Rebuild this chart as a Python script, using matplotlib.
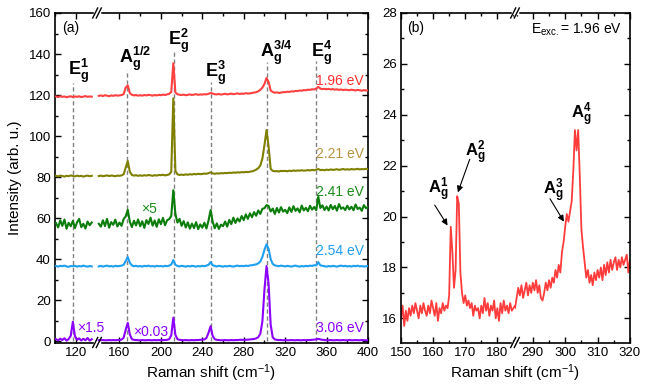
import numpy as np
import matplotlib
matplotlib.use('Agg')
import matplotlib.pyplot as plt
from matplotlib.lines import Line2D
from matplotlib.ticker import MultipleLocator, FixedLocator

plt.rcParams['font.family'] = ['Liberation Sans', 'DejaVu Sans']
plt.rcParams['mathtext.fontset'] = 'custom'
plt.rcParams['mathtext.rm'] = 'Liberation Sans'
plt.rcParams['mathtext.it'] = 'Liberation Sans:italic'
plt.rcParams['mathtext.bf'] = 'Liberation Sans:bold'

# ---- panel (a): spectra at five excitation energies, broken x axis ----
xa_lo = list(range(101, 136, 2))
xa_hi = list(range(140, 401, 2))

red_lo = [119.3, 119.0, 119.4, 119.1, 119.3, 118.9, 119.2, 119.4, 119.0,
          119.3, 119.1, 119.4, 119.0, 119.2, 119.5, 119.1, 119.3, 119.2]
red_hi = [119.6, 119.8, 119.5, 119.9, 119.7, 119.4, 119.8, 119.6, 119.9, 119.7,
          119.8, 120.0, 120.4, 123.6, 124.7, 121.0, 120.1, 119.8, 120.0, 119.7,
          119.9, 119.7, 120.0, 119.8, 120.1, 119.9, 119.7, 120.0, 119.8, 120.1,
          119.9, 120.2, 120.0, 120.3, 120.6, 121.5, 135.5, 121.2, 120.4, 120.1,
          120.0, 120.2, 119.9, 120.1, 120.3, 120.0, 120.2, 120.4, 120.1, 120.3,
          120.2, 120.4, 120.3, 120.6, 121.0, 120.7, 120.4, 120.3, 120.5, 120.2,
          120.4, 120.6, 120.3, 120.5, 120.7, 120.4, 120.6, 120.8, 120.5, 120.7,
          120.6, 120.9, 120.7, 120.8, 121.0, 121.2, 121.4, 121.8, 122.5, 123.6,
          125.4, 128.3, 126.4, 122.2, 121.5, 121.1, 121.3, 121.0, 121.2, 121.4,
          121.4, 121.6, 121.5, 121.8, 121.7, 122.0, 121.9, 122.2, 122.1, 122.4,
          122.3, 122.6, 122.5, 122.8, 122.7, 123.1, 124.0, 123.1, 122.9, 123.0,
          122.8, 123.0, 122.7, 122.9, 122.6, 122.8, 122.5, 122.7, 122.4, 122.6,
          122.5, 122.3, 122.6, 122.4, 122.2, 122.5, 122.3, 122.1, 122.4, 122.2,
          122.3]

olive_lo = [80.6, 80.3, 80.7, 80.5, 80.2, 80.6, 80.4, 80.8, 80.5,
            80.3, 80.7, 80.4, 80.6, 80.2, 80.5, 80.7, 80.4, 80.6]
olive_hi = [80.5, 80.7, 80.4, 80.6, 80.8, 80.5, 80.7, 80.6, 80.4, 80.7,
            80.6, 80.8, 81.3, 84.5, 87.8, 82.6, 81.0, 80.7, 80.9, 80.6,
            80.8, 80.6, 80.9, 80.7, 81.0, 80.8, 80.6, 80.9, 80.7, 81.0,
            80.9, 81.1, 80.8, 81.0, 81.3, 82.5, 118.4, 83.0, 81.3, 81.0,
            81.2, 81.0, 81.3, 81.1, 81.4, 81.2, 81.5, 81.3, 81.6, 81.4,
            81.5, 81.7, 81.6, 81.9, 82.3, 81.8, 81.6, 81.8, 81.7, 81.9,
            81.8, 82.0, 81.9, 82.1, 82.0, 82.2, 82.1, 82.3, 82.2, 82.4,
            82.3, 82.5, 82.4, 82.6, 82.8, 83.1, 83.6, 84.3, 85.6, 89.0,
            95.5, 102.9, 95.0, 84.0, 83.0, 82.8, 82.9, 82.7, 83.0, 82.9,
            83.0, 82.8, 83.1, 82.9, 83.2, 83.0, 83.2, 83.1, 83.3, 83.1,
            83.2, 83.4, 83.2, 83.5, 83.3, 83.6, 83.9, 83.4, 83.5, 83.3,
            83.6, 83.4, 83.7, 83.5, 83.6, 83.8, 83.5, 83.7, 83.9, 83.6,
            83.8, 83.6, 83.9, 83.7, 83.8, 84.0, 83.7, 83.9, 83.8, 84.0,
            83.8]

green_lo = [57.5, 55.4, 58.9, 56.2, 59.3, 54.8, 57.7, 56.0, 58.6,
            55.1, 57.9, 59.6, 55.6, 57.2, 54.9, 58.3, 56.5, 57.8]
green_hi = [57.2, 55.8, 58.9, 56.1, 59.6, 55.3, 58.0, 56.7, 59.2, 55.9,
            57.8, 56.2, 59.5, 60.8, 64.0, 58.2, 55.6, 58.7, 56.4, 59.3,
            56.0, 58.4, 55.2, 59.0, 57.1, 60.2, 56.3, 58.8, 55.7, 59.4,
            57.0, 60.1, 56.5, 58.9, 59.5, 61.0, 73.6, 62.0, 57.8, 59.6,
            56.2, 58.5, 55.4, 57.9, 54.8, 57.3, 55.1, 58.0, 54.6, 56.9,
            55.3, 57.7, 54.9, 58.8, 63.9, 58.2, 55.0, 57.4, 54.7, 56.8,
            56.0, 58.3, 55.8, 59.1, 57.0, 60.2, 57.6, 59.8, 58.3, 61.0,
            59.0, 61.8, 59.6, 62.3, 60.4, 62.9, 61.1, 63.7, 62.0, 64.5,
            64.8, 66.3, 65.9, 63.2, 64.6, 62.0, 64.9, 62.7, 65.3, 63.1,
            64.0, 62.4, 65.2, 63.0, 65.8, 63.5, 64.7, 62.8, 66.1, 63.7,
            65.0, 63.3, 66.0, 64.1, 65.4, 63.8, 70.4, 64.9, 66.2, 63.9,
            65.6, 63.7, 66.4, 64.3, 65.9, 63.6, 66.8, 64.5, 65.2, 63.9,
            66.0, 64.2, 65.5, 63.8, 66.6, 64.4, 65.1, 63.5, 66.3, 64.8,
            65.4]

blue_lo = [36.6, 36.3, 36.7, 36.5, 36.8, 36.4, 36.2, 36.6, 36.5,
           36.7, 36.3, 36.6, 36.4, 36.8, 36.5, 36.3, 36.6, 36.4]
blue_hi = [36.4, 36.7, 36.3, 36.6, 36.8, 36.4, 36.6, 36.3, 36.7, 36.5,
           36.6, 36.8, 37.2, 39.0, 41.0, 38.2, 36.9, 36.5, 36.7, 36.4,
           36.6, 36.3, 36.7, 36.5, 36.8, 36.4, 36.6, 36.3, 36.7, 36.5,
           36.6, 36.4, 36.7, 36.5, 36.8, 37.3, 39.5, 37.2, 36.6, 36.4,
           36.7, 36.5, 36.3, 36.6, 36.4, 36.7, 36.5, 36.3, 36.6, 36.4,
           36.7, 36.5, 36.8, 37.2, 38.5, 37.0, 36.6, 36.4, 36.7, 36.5,
           36.3, 36.6, 36.4, 36.7, 36.5, 36.3, 36.6, 36.8, 36.5, 36.7,
           36.5, 36.8, 36.6, 36.9, 37.0, 37.2, 37.4, 37.9, 38.8, 41.0,
           44.5, 47.2, 45.0, 40.0, 37.6, 36.9, 36.7, 36.5, 36.8, 36.6,
           36.4, 36.7, 36.5, 36.3, 36.6, 36.8, 36.5, 36.3, 36.6, 36.4,
           36.7, 36.5, 36.8, 36.6, 37.0, 36.9, 38.5, 36.9, 36.7, 36.5,
           36.3, 36.6, 36.4, 36.7, 36.5, 36.3, 36.6, 36.8, 36.5, 36.7,
           36.4, 36.6, 36.3, 36.7, 36.5, 36.8, 36.4, 36.6, 36.3, 36.5,
           36.6]

purple_lo = [0.9, 0.3, 1.2, 0.5, 1.4, 0.2, 1.0, 2.6, 9.4,
             2.4, 0.6, 1.3, 0.3, 1.1, 0.4, 1.5, 0.2, 0.9]
purple_hi = [0.4, 0.4, 0.5, 0.4, 0.4, 0.5, 0.4, 0.5, 0.4, 0.5,
             0.5, 0.7, 1.6, 5.5, 8.9, 3.2, 0.9, 0.6, 0.5, 0.4,
             0.4, 0.5, 0.4, 0.4, 0.5, 0.4, 0.4, 0.5, 0.4, 0.5,
             0.4, 0.5, 0.5, 0.6, 0.9, 2.8, 11.4, 3.0, 0.9, 0.6,
             0.5, 0.4, 0.5, 0.4, 0.4, 0.5, 0.4, 0.5, 0.5, 0.6,
             0.7, 0.8, 1.5, 4.0, 7.3, 2.5, 0.9, 0.6, 0.5, 0.4,
             0.4, 0.5, 0.4, 0.4, 0.5, 0.4, 0.5, 0.5, 0.6, 0.6,
             0.6, 0.6, 0.7, 0.8, 0.9, 1.0, 1.3, 1.9, 3.5, 9.5,
             25.0, 36.6, 28.0, 8.0, 1.8, 0.8, 0.6, 0.5, 0.5, 0.4,
             0.5, 0.4, 0.4, 0.5, 0.4, 0.4, 0.5, 0.4, 0.4, 0.5,
             0.4, 0.5, 0.5, 0.6, 0.7, 0.8, 1.1, 0.8, 0.6, 0.5,
             0.4, 0.4, 0.5, 0.4, 0.4, 0.5, 0.4, 0.4, 0.5, 0.4,
             0.4, 0.5, 0.4, 0.4, 0.5, 0.4, 0.4, 0.5, 0.4, 0.4,
             0.4]

energies = ['1.96 eV', '2.21 eV', '2.41 eV', '2.54 eV', '3.06 eV']
energy_label_y = [127, 91.2, 72.7, 43.9, 6.3]

mode_names = [r'$\mathbf{E}_\mathbf{g}^\mathbf{1}$', r'$\mathbf{A}_\mathbf{g}^\mathbf{1/2}$',
              r'$\mathbf{E}_\mathbf{g}^\mathbf{2}$', r'$\mathbf{E}_\mathbf{g}^\mathbf{3}$',
              r'$\mathbf{A}_\mathbf{g}^\mathbf{3/4}$', r'$\mathbf{E}_\mathbf{g}^\mathbf{4}$']
mode_pos = [117, 167.4, 212.4, 248.4, 302.8, 349.9]

# ---- panel (b): 1.96 eV spectrum, broken x axis ----
xb_lo = np.arange(300, 372) / 2
xb_hi = np.arange(569, 641) / 2
b_lo = [16.0, 16.5, 15.7, 16.3, 15.9, 16.4, 16.1, 16.5, 16.2, 16.6,
        16.3, 16.0, 16.5, 16.2, 16.6, 16.3, 16.1, 16.5, 16.2, 16.7,
        16.4, 16.1, 16.6, 15.9, 16.4, 16.2, 16.6, 16.3, 16.5, 16.4,
        16.9, 19.6, 18.6, 17.2, 17.9, 20.8, 20.5, 17.8, 17.0, 16.6,
        16.9, 16.5, 16.7, 16.4, 16.6, 16.1, 16.5, 16.3, 16.4, 16.0,
        16.5, 16.2, 16.8, 16.3, 16.6, 16.1, 16.5, 16.3, 16.7, 16.0,
        16.4, 15.9, 16.6, 16.2, 16.7, 16.3, 16.5, 16.2, 16.6, 16.3,
        16.4, 16.5]
b_hi = [16.4, 16.8, 17.2, 16.9, 17.3, 16.8, 17.1, 17.4, 16.9, 17.3,
        17.0, 17.4, 17.1, 17.5, 17.0, 17.3, 16.8, 16.7, 17.0, 17.4,
        17.1, 17.5, 17.2, 17.6, 17.4, 17.9, 17.6, 18.1, 17.8, 18.6,
        19.0, 19.6, 20.1, 19.8, 20.2, 20.6, 21.8, 23.4, 22.6, 23.4,
        21.6, 19.5, 18.8, 18.2, 17.6, 17.9, 17.4, 17.7, 17.3, 17.8,
        17.5, 17.9, 17.6, 18.0, 17.5, 18.1, 17.7, 18.2, 17.8, 18.3,
        17.9, 18.2, 18.4, 17.9, 18.3, 18.0, 18.4, 18.1, 18.3, 18.5,
        17.8, 18.3]

colors = ['#ff4040', '#808000', '#0a7d0a', '#1e9ff0', '#8b00ff']
label_colors = ['#ff3030', '#b8923f', '#1a8c1a', '#1e9ff0', '#8b00ff']

W, H = 648, 387
fig = plt.figure(figsize=(W / 100, H / 100), dpi=100)


def box(x0, x1, y0, y1):
    return [x0 / W, 1 - y1 / H, (x1 - x0) / W, (y1 - y0) / H]


def style_pair(ax1, ax2, ylim, ymaj, ymin):
    for ax in (ax1, ax2):
        ax.set_ylim(*ylim)
        ax.yaxis.set_major_locator(MultipleLocator(ymaj))
        ax.yaxis.set_minor_locator(MultipleLocator(ymin))
        ax.tick_params(which='both', direction='in', top=True, bottom=True,
                       width=1, labelsize=9.5, pad=3)
        ax.tick_params(which='major', length=4.5)
        ax.tick_params(which='minor', length=2.5)
        for s in ax.spines.values():
            s.set_linewidth(1.2)
    ax1.spines['right'].set_visible(False)
    ax1.tick_params(which='both', right=False)
    ax2.spines['left'].set_visible(False)
    ax2.tick_params(which='both', left=False, labelleft=False, right=True)
    # keep text of the first piece visible across the join
    ax2.patch.set_visible(False)


def break_marks(xpix, y0=13, y1=342.5):
    for ypix in (y0, y1):
        fig.add_artist(Line2D([(xpix - 2) / W, (xpix + 2) / W], [1 - ypix / H] * 2,
                              color='white', lw=2.5))
        for d in (-1.8, 1.8):
            fig.add_artist(Line2D([(xpix + d - 2.5) / W, (xpix + d + 2.5) / W],
                                  [1 - (ypix + 5) / H, 1 - (ypix - 5) / H],
                                  color='k', lw=1))


# panel (a)
axa1 = fig.add_axes(box(55, 97, 13, 342.5))
axa2 = fig.add_axes(box(97, 368, 13, 342.5))
axa1.set_xlim(100, 140)
axa2.set_xlim(138.3, 400)
axa1.xaxis.set_major_locator(FixedLocator([120]))
axa1.xaxis.set_minor_locator(FixedLocator([100]))
axa2.xaxis.set_major_locator(MultipleLocator(40))
axa2.xaxis.set_minor_locator(FixedLocator(list(range(180, 400, 40))))
style_pair(axa1, axa2, (-0.7, 160), 20, 10)

lows = [red_lo, olive_lo, green_lo, blue_lo, purple_lo]
highs = [red_hi, olive_hi, green_hi, blue_hi, purple_hi]
for lo, hi, c in zip(lows, highs, colors):
    axa1.plot(xa_lo, lo, color=c, lw=1.5, zorder=3)
    axa2.plot(xa_hi, hi, color=c, lw=1.5, zorder=3)

for e, y, c in zip(energies, energy_label_y, label_colors):
    axa2.text(396, y, e, color=c, fontsize=10, ha='right', va='center')

line_tops = [125.8, 132, 141, 126.5, 136, 136.5]
text_left = [112.4, 159.5, 206.9, 242.6, 295.7, 345]
text_base = [129.8, 135.6, 144.4, 129, 138.5, 138.5]
for i, (name, pos) in enumerate(zip(mode_names, mode_pos)):
    ax = axa1 if pos < 139 else axa2
    ax.plot([pos, pos], [0, line_tops[i]], ls=(0, (3, 2)), color='#808080',
            lw=1, zorder=1)
    ax.text(text_left[i], text_base[i], name, fontsize=13, ha='left', va='baseline')

axa2.text(180.8, 64.6, '×5', color='#1a8c1a', fontsize=10, ha='left', va='center')
axa1.text(121, 6.3, '×1.5', color='#8b00ff', fontsize=10, ha='left', va='center')
axa2.text(173, 4.6, '×0.03', color='#8b00ff', fontsize=10, ha='left', va='center')
break_marks(97)

# panel (b)
axb1 = fig.add_axes(box(401, 515, 13, 342.5))
axb2 = fig.add_axes(box(515, 630, 13, 342.5))
axb1.set_xlim(150, 185.5)
axb2.set_xlim(284.5, 320)
for ax in (axb1, axb2):
    ax.xaxis.set_major_locator(MultipleLocator(10))
    ax.xaxis.set_minor_locator(MultipleLocator(5))
style_pair(axb1, axb2, (15.05, 28), 2, 1)
axb1.plot(xb_lo, b_lo, color='#ff3c3c', lw=1.3)
axb2.plot(xb_hi, b_hi, color='#ff3c3c', lw=1.3)

arrow = dict(arrowstyle='-|>', color='k', lw=0.8, mutation_scale=9, shrinkA=0, shrinkB=0)
axb1.text(158.4, 20.9, r'$\mathbf{A}_\mathbf{g}^\mathbf{1}$', fontsize=12, va='baseline')
axb1.annotate('', xy=(164.5, 19.65), xytext=(160.5, 20.45), arrowprops=arrow)
axb1.text(169.8, 22.35, r'$\mathbf{A}_\mathbf{g}^\mathbf{2}$', fontsize=12, va='baseline')
axb1.annotate('', xy=(167.7, 20.95), xytext=(171.4, 22.25), arrowprops=arrow)
axb2.text(293.1, 20.85, r'$\mathbf{A}_\mathbf{g}^\mathbf{3}$', fontsize=12, va='baseline')
axb2.annotate('', xy=(299.6, 19.8), xytext=(295.3, 20.7), arrowprops=arrow)
axb2.text(301.9, 23.85, r'$\mathbf{A}_\mathbf{g}^\mathbf{4}$', fontsize=12, va='baseline')
break_marks(515)

fig.text(62 / W, 1 - 28 / H, '(a)', fontsize=10, va='center')
fig.text(407 / W, 1 - 28 / H, '(b)', fontsize=10, va='center')
fig.text(622 / W, 1 - 30 / H, r'E$_\mathrm{exc.}$= 1.96 eV', fontsize=10,
         ha='right', va='center')
fig.text(15 / W, 1 - 178 / H, 'Intensity (arb. u.)', rotation=90, fontsize=11,
         ha='center', va='center')
fig.text(211 / W, 1 - 373 / H, r'Raman shift (cm$^{-1}$)', fontsize=11,
         ha='center', va='center')
fig.text(515 / W, 1 - 373 / H, r'Raman shift (cm$^{-1}$)', fontsize=11,
         ha='center', va='center')

fig.savefig('out.png', dpi=100)
